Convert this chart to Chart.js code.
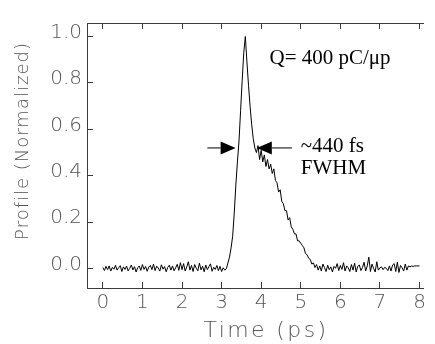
<!DOCTYPE html>
<html lang="en">
<head>
    <meta charset="UTF-8">
    <title>Bunch Profile (Q = 400 pC)</title>
    <script src="https://cdn.jsdelivr.net/npm/chart.js"></script>
    <style>
        body { margin: 0; background: #fff; }
        #wrap { width: 435px; height: 344px; }
    </style>
</head>
<body>
    <div id="wrap"><canvas id="profile-chart" width="435" height="344"></canvas></div>

    <script>
        var sampleStep = 0.04;
        var profile = [
            // baseline 0 - 3.08 ps
            0.005, -0.008, 0.010, -0.004, 0.012, -0.010, 0.006, -0.002, 0.015, -0.006,
            0.004, 0.013, -0.012, 0.008, -0.003, 0.011, -0.009, 0.002, 0.016, -0.005,
            0.009, -0.014, 0.004, 0.012, -0.007, 0.018, -0.003, 0.010, -0.011, 0.007,
            0.014, -0.004, 0.020, -0.008, 0.011, 0.003, -0.010, 0.017, -0.002, 0.009,
            -0.013, 0.006, 0.015, -0.006, 0.012, -0.009, 0.004, 0.019, -0.007, 0.026,
            -0.004, 0.022, -0.010, 0.008, 0.030, -0.006, 0.014, -0.012, 0.018, 0.002,
            -0.009, 0.024, -0.005, 0.011, -0.013, 0.016, -0.004, 0.009, 0.021, -0.011,
            0.006, -0.003, 0.014, -0.008, 0.010, -0.012, 0.004, -0.006,
            // rise 3.12 - 3.60 ps
            0.000, 0.025, 0.050, 0.090, 0.140, 0.240, 0.360, 0.460, 0.550, 0.680,
            0.810, 0.930, 1.000,
            // fall and tail 3.64 - 5.36 ps
            0.890, 0.790, 0.700, 0.620, 0.560, 0.520, 0.500, 0.530, 0.470, 0.510,
            0.460, 0.490, 0.440, 0.470, 0.430, 0.450, 0.410, 0.430, 0.380, 0.370,
            0.330, 0.340, 0.290, 0.280, 0.250, 0.250, 0.210, 0.220, 0.180, 0.170,
            0.150, 0.150, 0.120, 0.120, 0.110, 0.100, 0.090, 0.065, 0.060, 0.045,
            0.040, 0.020, 0.025, 0.005,
            // baseline 5.40 - 8.00 ps
            0.018, -0.006, 0.012, -0.010, 0.020, 0.004, -0.012, 0.015, -0.004, 0.008,
            -0.014, 0.010, 0.002, 0.022, -0.008, 0.014, -0.003, 0.026, -0.010, 0.012,
            0.004, -0.012, 0.018, -0.006, 0.024, -0.014, 0.010, 0.016, -0.008, 0.006,
            0.028, -0.010, 0.012, 0.050, -0.012, 0.020, 0.002, -0.014, 0.030, -0.006,
            0.004, 0.008, -0.004, 0.006, 0.002, -0.008, 0.012, -0.010, 0.016, 0.022,
            -0.012, 0.028, -0.016, 0.014, 0.004, -0.010, 0.020, -0.006, 0.012, 0.008,
            0.012, 0.010, 0.012, 0.012, 0.012, 0.012
        ];

        var xTicks = [0, 1, 2, 3, 4, 5, 6, 7, 8];
        var yTicks = [0.0, 0.2, 0.4, 0.6, 0.8, 1.0];

        // FWHM arrows (data units): tail and tip x, common height
        var fwhmLevel = 0.52;
        var arrowLeft = [2.64, 3.355];
        var arrowRight = [4.78, 3.89];

        // text notes, left aligned at (x, y) in data units
        var notes = [
            { text: 'Q= 400 pC/\u03bcp', x: 4.21, y: 0.905 },
            { text: '~440 fs', x: 5.0, y: 0.525 },
            { text: 'FWHM', x: 5.0, y: 0.43 }
        ];

        var points = profile.map(function(v, i) {
            return { x: +(i * sampleStep).toFixed(2), y: v };
        });

        var axisColor = '#3a3a3a';
        var labelColor = '#555';
        var sansFont = 'DejaVu Sans';

        function fixTicks(list) {
            return function(scale) {
                scale.ticks = list.map(function(v) { return { value: v }; });
            };
        }

        // axis titles and annotations drawn on top of the chart
        var notesPlugin = {
            id: 'notes',
            afterDraw: function(chart) {
                var c = chart.ctx;
                var xs = chart.scales.x, ys = chart.scales.y;
                c.save();

                // axis titles
                c.fillStyle = labelColor;
                c.textAlign = 'center';
                c.textBaseline = 'middle';
                c.font = '200 22px "' + sansFont + '"';
                c.letterSpacing = '2.4px';
                c.fillText('Time (ps)', 266, 331);
                c.save();
                c.translate(23, 141);
                c.rotate(-Math.PI / 2);
                c.font = '200 18px "' + sansFont + '"';
                c.letterSpacing = '1px';
                c.fillText('Profile (Normalized)', 0, 0);
                c.restore();
                c.letterSpacing = '0px';

                // notes
                c.fillStyle = '#000';
                c.textAlign = 'left';
                c.font = '21px "Liberation Serif", "Times New Roman", serif';
                notes.forEach(function(n) {
                    c.fillText(n.text, xs.getPixelForValue(n.x), ys.getPixelForValue(n.y));
                });

                // arrows
                var yPix = ys.getPixelForValue(fwhmLevel);
                c.strokeStyle = '#000';
                c.lineWidth = 1;
                [arrowLeft, arrowRight].forEach(function(a) {
                    var tail = xs.getPixelForValue(a[0]);
                    var tip = xs.getPixelForValue(a[1]);
                    var dir = tip > tail ? 1 : -1;
                    var base = tip - dir * 15;
                    c.beginPath();
                    c.moveTo(tail, yPix);
                    c.lineTo(base, yPix);
                    c.stroke();
                    c.beginPath();
                    c.moveTo(tip, yPix);
                    c.lineTo(base, yPix - 6.5);
                    c.lineTo(base, yPix + 6.5);
                    c.closePath();
                    c.fill();
                });
                c.restore();
            }
        };

        var tickFont = { family: sansFont, size: 20, weight: 200 };
        var gridOpts = { drawOnChartArea: false, tickLength: -6, color: axisColor, lineWidth: 1 };

        var ctx = document.getElementById('profile-chart').getContext('2d');
        var profileChart = new Chart(ctx, {
            type: 'line',
            data: {
                datasets: [{
                    data: points,
                    borderColor: '#000',
                    borderWidth: 1,
                    pointRadius: 0,
                    fill: false,
                    tension: 0
                }]
            },
            options: {
                responsive: false,
                animation: false,
                layout: { padding: { top: 0, right: 2, bottom: 0, left: 0 } },
                plugins: {
                    legend: { display: false },
                    tooltip: { enabled: false }
                },
                scales: {
                    x: {
                        type: 'linear',
                        position: 'bottom',
                        min: -0.4,
                        max: 8.09,
                        afterBuildTicks: fixTicks(xTicks),
                        afterFit: function(s) { s.height = 56; },
                        grid: gridOpts,
                        border: { color: axisColor, width: 1 },
                        ticks: {
                            font: tickFont,
                            color: labelColor,
                            padding: 9,
                            maxRotation: 0,
                            autoSkip: false,
                            callback: function(v) { return String(v); }
                        }
                    },
                    x2: {
                        type: 'linear',
                        position: 'top',
                        min: -0.4,
                        max: 8.09,
                        afterBuildTicks: fixTicks(xTicks),
                        afterFit: function(s) { s.height = 14; },
                        grid: gridOpts,
                        border: { color: axisColor, width: 1 },
                        ticks: { display: false }
                    },
                    y: {
                        type: 'linear',
                        min: -0.083,
                        max: 1.058,
                        afterBuildTicks: fixTicks(yTicks),
                        afterFit: function(s) { s.width = 87; },
                        grid: gridOpts,
                        border: { color: axisColor, width: 1 },
                        ticks: {
                            font: tickFont,
                            color: labelColor,
                            padding: 11,
                            labelOffset: -4,
                            autoSkip: false,
                            callback: function(v) { return v.toFixed(1); }
                        }
                    }
                }
            },
            plugins: [notesPlugin]
        });
    </script>
</body>
</html>
